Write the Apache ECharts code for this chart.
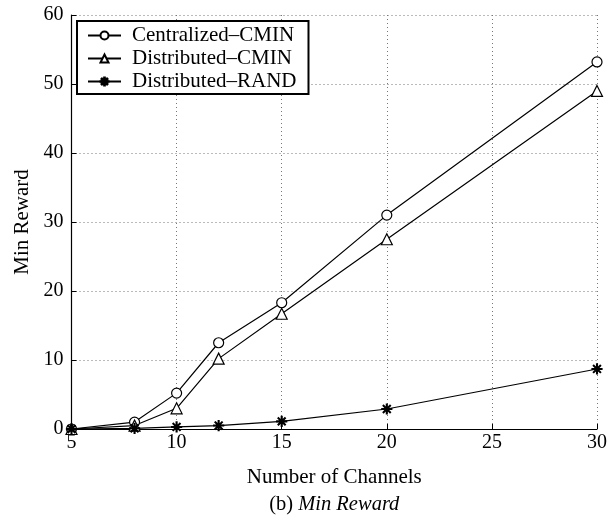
<!DOCTYPE html>
<html>
<head>
<meta charset="utf-8">
<script src="https://cdn.jsdelivr.net/npm/echarts@6/dist/echarts.min.js"></script>
<style>
  html, body { margin: 0; padding: 0; background: #fff; }
  #chart { width: 610px; height: 520px; }
</style>
</head>
<body>
<div id="chart"></div>
<script>
// Number of channels on the x axis
const channels = [5, 8, 10, 12, 15, 20, 30];

// Minimum reward for each scheme
const centralizedCmin = [0, 1.0, 5.2, 12.5, 18.3, 31.0, 53.2];
const distributedCmin = [0, 0.5, 3.0, 10.2, 16.7, 27.5, 49.0];
const distributedRand = [0, 0.1, 0.3, 0.5, 1.1, 2.9, 8.7];

const seriesNames = ['Centralized\u2013CMIN', 'Distributed\u2013CMIN', 'Distributed\u2013RAND'];

const xTicks = { min: 5, max: 30, step: 5 };
const yTicks = { min: 0, max: 60, step: 10 };

const FONT = 'Liberation Serif';

// asterisk marker: plus sign overlaid with an x
const asterisk = 'path://M-0.9,-10L0.9,-10L0.9,10L-0.9,10Z' +
  'M-10,-0.9L10,-0.9L10,0.9L-10,0.9Z' +
  'M-6.4,-7.6L7.6,6.4L6.4,7.6L-7.6,-6.4Z' +
  'M6.4,-7.6L7.6,-6.4L-6.4,7.6L-7.6,6.4Z';

function pairs(ys) { return channels.map((x, i) => [x, ys[i]]); }

function lineSeries(name, ys, symbol, size) {
  return {
    name: name,
    type: 'line',
    data: pairs(ys),
    symbol: symbol,
    symbolSize: size,
    showAllSymbol: true,
    lineStyle: { color: '#000', width: 1.2 },
    itemStyle: { color: symbol === asterisk ? '#000' : '#fff', borderColor: '#000', borderWidth: 1.2 },
    emphasis: { disabled: true },
    animation: false,
    z: 3
  };
}

const chart = echarts.init(document.getElementById('chart'), null, { renderer: 'canvas' });

const gridBox = { left: 71.5, right: 13, top: 15, bottom: 91 };
const plotCenterX = gridBox.left + (610 - gridBox.left - gridBox.right) / 2;

chart.setOption({
  backgroundColor: '#fff',
  animation: false,
  textStyle: { fontFamily: FONT, color: '#000' },
  grid: Object.assign({ containLabel: false }, gridBox),
  graphic: [{
    type: 'text',
    x: plotCenterX,
    y: 505,
    style: {
      text: '(b) {i|Min Reward}',
      align: 'center',
      verticalAlign: 'middle',
      fontFamily: FONT,
      fontSize: 20.5,
      fill: '#000',
      rich: { i: { fontFamily: FONT, fontSize: 20.5, fontStyle: 'italic', fill: '#000', color: '#000' } }
    }
  }],
  legend: {
    data: seriesNames,
    orient: 'vertical',
    left: 77,
    top: 21,
    padding: [4, 12, 2, 10],
    itemGap: 2,
    itemWidth: 33,
    itemHeight: 10,
    backgroundColor: '#fff',
    borderColor: '#000',
    borderWidth: 2,
    borderRadius: 0,
    textStyle: { fontFamily: FONT, fontSize: 21, color: '#000', padding: [0, 0, 0, 6] },
    selectedMode: false,
    z: 10
  },
  xAxis: {
    type: 'value',
    min: xTicks.min,
    max: xTicks.max,
    interval: xTicks.step,
    name: 'Number of Channels',
    nameLocation: 'middle',
    nameGap: 38,
    nameTextStyle: { fontFamily: FONT, fontSize: 21, color: '#000' },
    axisLine: { show: true, lineStyle: { color: '#000', width: 1.2 } },
    axisTick: { show: true, inside: true, length: 5, lineStyle: { color: '#000', width: 1 } },
    axisLabel: { fontFamily: FONT, fontSize: 20, color: '#000', margin: 4 },
    splitLine: { show: true, lineStyle: { color: '#777', type: [1, 3], width: 1 } }
  },
  yAxis: {
    type: 'value',
    min: yTicks.min,
    max: yTicks.max,
    interval: yTicks.step,
    name: 'Min Reward',
    nameLocation: 'middle',
    nameGap: 37,
    nameTextStyle: { fontFamily: FONT, fontSize: 21, color: '#000' },
    axisLine: { show: true, lineStyle: { color: '#000', width: 1.2 } },
    axisTick: { show: true, inside: true, length: 5, lineStyle: { color: '#000', width: 1 } },
    axisLabel: { fontFamily: FONT, fontSize: 20, color: '#000', margin: 8 },
    splitLine: { show: true, lineStyle: { color: '#777', type: [1, 3], width: 1 } }
  },
  series: [
    lineSeries(seriesNames[0], centralizedCmin, 'circle', 10),
    lineSeries(seriesNames[1], distributedCmin, 'triangle', 11),
    lineSeries(seriesNames[2], distributedRand, asterisk, 10)
  ]
});
</script>
</body>
</html>
